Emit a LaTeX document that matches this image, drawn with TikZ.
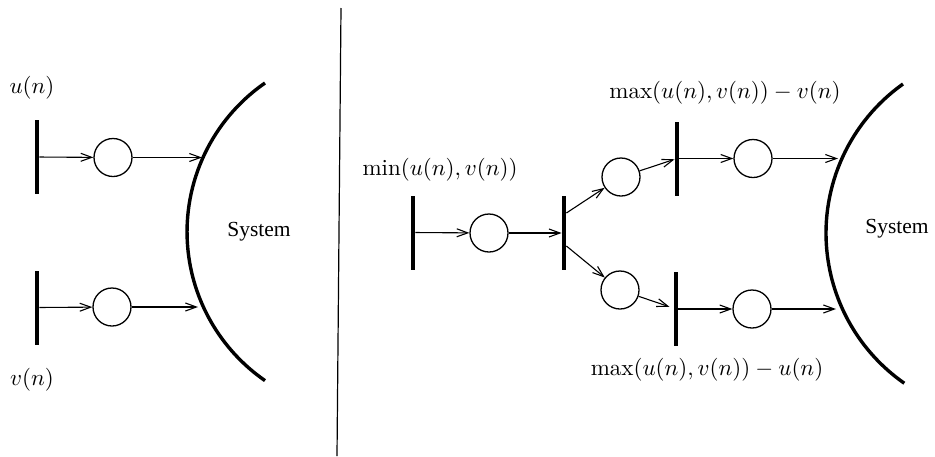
\documentclass[tikz,border=0pt]{standalone}
\usepackage{fontspec}
\newfontfamily\sysfont{Liberation Serif}
\usetikzlibrary{arrows.meta,calc}
\begin{document}
\begin{tikzpicture}[x=1pt,y=-1pt,
  bar/.style={fill=black,draw=none,rectangle,inner sep=0pt,minimum width=4.4pt,minimum height=74pt},
  place/.style={draw,circle,line width=1.3pt,inner sep=0pt,minimum size=38pt},
  arr/.style={line width=1.1pt,-{Straight Barb[length=11pt,width=8pt,line width=1.1pt]}},
  lab/.style={inner sep=0pt,scale=2.3},
  sys/.style={inner sep=0pt,font=\sysfont\fontsize{21.5}{26}\selectfont},
  wall/.style={line width=3.4pt}]
\useasboundingbox (0,0) rectangle (935,456);
% divider
\draw[line width=1.2pt] (341,8) -- (337,456);
% ---------- left panel ----------
\node[bar] (ubar) at (37,157) {};
\node[bar] (vbar) at (37,307.5) {};
\node[place] (c1) at (113,157.5) {};
\node[place] (c2) at (112,307) {};
\node[lab] (ul) at (32,88) {$u(n)$};
\node[lab] (vl) at (32,380) {$v(n)$};
\draw[wall] (265,83) arc[start angle=235.3,end angle=124.7,radius=181];
\node[sys] (sysL) at (259,232) {System};
\coordinate (sa) at (202,157.5);
\coordinate (sb) at (198,307);
\draw[arr] (ubar) -- (c1);
\draw[arr] (c1) -- (sa);
\draw[arr] (vbar) -- (c2);
\draw[arr] (c2) -- (sb);
% ---------- right panel ----------
\node[bar] (b1) at (413,232.5) {};
\node[place] (cm) at (489,233) {};
\node[bar] (b2) at (564,233) {};
\node[place] (c3) at (621,177) {};
\node[place] (c4) at (620,290) {};
\node[bar] (b3) at (677,158.5) {};
\node[bar] (b4) at (676,309) {};
\node[place] (c5) at (753,158.5) {};
\node[place] (c6) at (752,309) {};
\node[lab] (minl) at (440,170) {$\min(u(n),v(n))$};
\node[lab] (maxv) at (725,93) {$\max(u(n),v(n))-v(n)$};
\node[lab] (maxu) at (707,370) {$\max(u(n),v(n))-u(n)$};
\draw[wall] (903,84) arc[start angle=234.6,end angle=124.9,radius=183];
\node[sys] (sysR) at (897,229) {System};
\coordinate (sc) at (838,158.5);
\coordinate (sd) at (836,309);
\draw[arr] (b1) -- (cm);
\draw[arr] (cm) -- (b2);
\draw[arr] ([yshift=20pt]b2.east) -- (c3);
\draw[arr] ([yshift=-13pt]b2.east) -- (c4);
\draw[arr] (c3) -- (b3);
\draw[arr,shorten >=7pt] (c4) -- (b4.center);
\draw[arr] (b3) -- (c5);
\draw[arr] (b4) -- (c6);
\draw[arr] (c5) -- (sc);
\draw[arr] (c6) -- (sd);
\end{tikzpicture}
\end{document}
